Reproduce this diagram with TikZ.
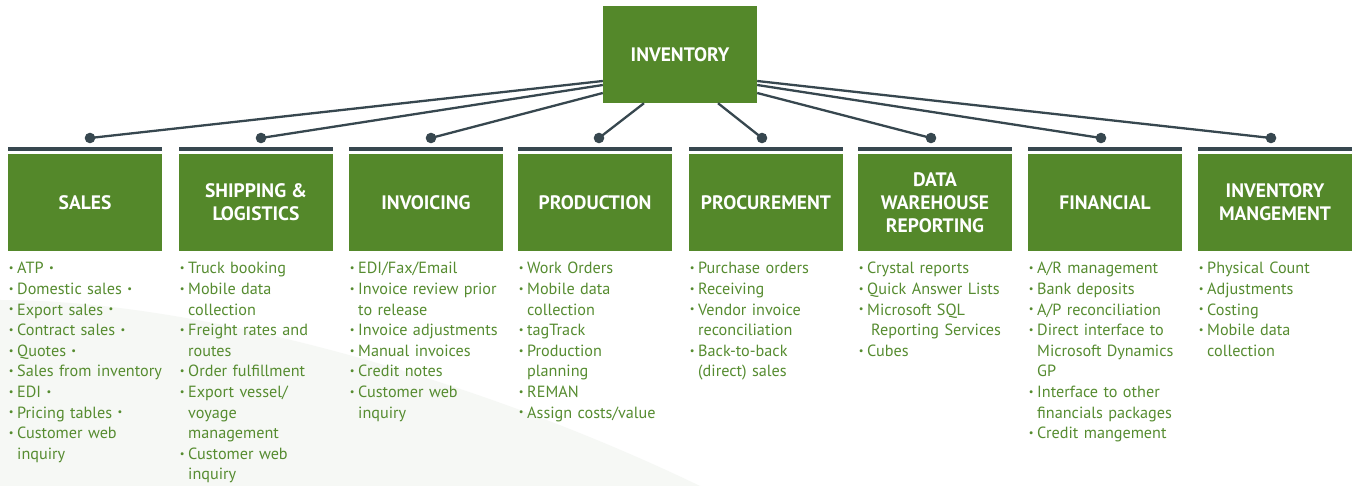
\documentclass[tikz,border=0pt]{standalone}
\usepackage{fontspec}
\setmainfont{PT Sans}
\usetikzlibrary{calc}
\definecolor{boxg}{RGB}{84,136,42}
\definecolor{lineg}{RGB}{55,71,79}
\definecolor{txtg}{RGB}{86,140,48}
\definecolor{bgsw}{RGB}{246,248,245}
\newcommand{\bulmark}{\raisebox{2.2pt}{\fontsize{10.5}{10}\selectfont\textbullet}}
\newcommand{\bitem}{\makebox[9pt][l]{\hspace{0.6pt}\bulmark}}
\newcommand{\citem}{\hspace*{9pt}}
\tikzset{
  boxnode/.style={fill=boxg, minimum width=154pt, minimum height=97pt, inner sep=0pt,
    text=white, font=\fontsize{19.5}{23}\selectfont\bfseries, align=center},
  bar/.style={fill=lineg},
  conn/.style={draw=lineg, line width=2.3pt},
  dotnode/.style={circle, fill=lineg, minimum size=10.6pt, inner sep=0pt},
  lst/.style={anchor=base west, text width=175pt, inner sep=0pt, align=left, text=txtg,
    font=\fontsize{16.2}{20.6}\selectfont}
}
\begin{document}
\begin{tikzpicture}[x=1pt,y=-1pt]
\useasboundingbox (0,0) rectangle (1353,486);
\fill[white] (0,0) rectangle (1353,486);
\fill[bgsw] (0,300) .. controls (200,300) and (480,380) .. (700,486) -- (0,486) -- cycle;

% top box
\node[boxnode] (inv) at (680,54.5) {INVENTORY};

% bars and boxes
\foreach \x/\n/\t in {8/b1/SALES, 179/b2/{SHIPPING \&\\LOGISTICS}, 349/b3/INVOICING,
  518/b4/PRODUCTION, 689/b5/PROCUREMENT, 858/b6/{DATA\\WAREHOUSE\\REPORTING},
  1028/b7/FINANCIAL, 1198/b8/{INVENTORY\\MANGEMENT}}{
  \fill[bar] (\x,147) rectangle ++(154,4.5);
  \node[boxnode] (\n) at (\x+77,202.5) {\t};
}

% dots
\foreach \x/\n in {90/d1,261/d2,431/d3,599/d4,762/d5,931/d6,1101/d7,1271/d8}{
  \node[dotnode] (\n) at (\x,138) {};
}

% connectors
\draw[conn] ([yshift=-26.5pt]inv.west) -- (d1.center);
\draw[conn] ([yshift=-30.5pt]inv.west) -- (d2.center);
\draw[conn] ([yshift=-38.5pt]inv.west) -- (d3.center);
\draw[conn] ([xshift=-36pt]inv.south) -- (d4.center);
\draw[conn] ([xshift=38pt]inv.south) -- (d5.center);
\draw[conn] ([yshift=-38.5pt]inv.east) -- (d6.center);
\draw[conn] ([yshift=-30.5pt]inv.east) -- (d7.center);
\draw[conn] ([yshift=-26.5pt]inv.east) -- (d8.center);

% lists
\node[lst] (l1) at (8,274) {\bitem ATP \bulmark\\\bitem Domestic sales \bulmark\\\bitem Export sales \bulmark\\\bitem Contract sales \bulmark\\\bitem Quotes \bulmark\\\bitem Sales from inventory\\\bitem EDI \bulmark\\\bitem Pricing tables \bulmark\\\bitem Customer web\\\citem inquiry};
\node[lst] (l2) at (179,274) {\bitem Truck booking\\\bitem Mobile data\\\citem collection\\\bitem Freight rates and\\\citem routes\\\bitem Order fulfillment\\\bitem Export vessel/\\\citem voyage\\\citem management\\\bitem Customer web\\\citem inquiry};
\node[lst] (l3) at (349,274) {\bitem EDI/Fax/Email\\\bitem Invoice review prior\\\citem to release\\\bitem Invoice adjustments\\\bitem Manual invoices\\\bitem Credit notes\\\bitem Customer web\\\citem inquiry};
\node[lst] (l4) at (518,274) {\bitem Work Orders\\\bitem Mobile data\\\citem collection\\\bitem tagTrack\\\bitem Production\\\citem planning\\\bitem REMAN\\\bitem Assign costs/value};
\node[lst] (l5) at (689,274) {\bitem Purchase orders\\\bitem Receiving\\\bitem Vendor invoice\\\citem reconciliation\\\bitem Back-to-back\\\citem (direct) sales};
\node[lst] (l6) at (858,274) {\bitem Crystal reports\\\bitem Quick Answer Lists\\\bitem Microsoft SQL\\\citem\hspace*{4pt}Reporting Services\\\bitem Cubes};
\node[lst] (l7) at (1028,274) {\bitem A/R management\\\bitem Bank deposits\\\bitem A/P reconciliation\\\bitem Direct interface to\\\citem Microsoft Dynamics\\\citem GP\\\bitem Interface to other\\\citem financials packages\\\bitem Credit mangement};
\node[lst] (l8) at (1198,274) {\bitem Physical Count\\\bitem Adjustments\\\bitem Costing\\\bitem Mobile data\\\citem collection};
\end{tikzpicture}
\end{document}
